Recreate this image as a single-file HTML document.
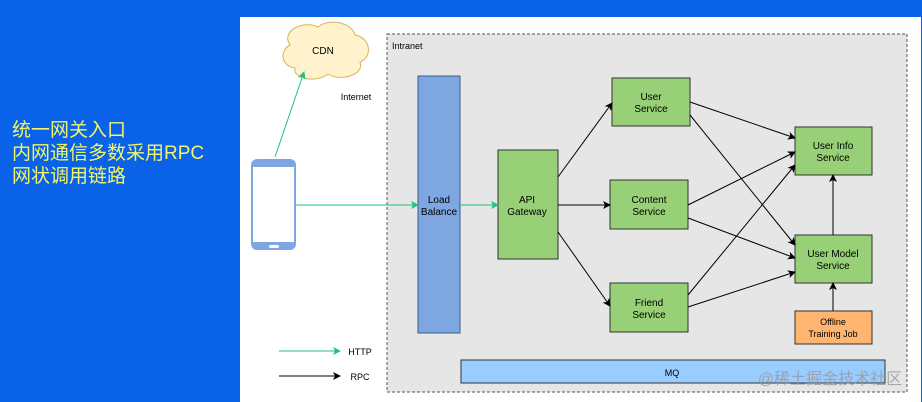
<!DOCTYPE html>
<html><head><meta charset="utf-8"><style>
html,body{margin:0;padding:0;width:922px;height:402px;overflow:hidden;background:#0a62e8;}
.t{position:absolute;left:12px;top:119px;color:#f2f56a;font:19px/23px "Liberation Sans","Noto Sans CJK SC",sans-serif;}
svg{position:absolute;left:0;top:0}
</style></head><body>
<div class="t">统一网关入口<br>内网通信多数采用RPC<br>网状调用链路</div>
<svg width="922" height="402" viewBox="0 0 922 402" font-family="Liberation Sans, sans-serif" font-size="10" text-anchor="middle">
<defs>
<marker id="a" markerWidth="8" markerHeight="8" refX="7" refY="4" orient="auto" markerUnits="userSpaceOnUse"><path d="M0,0 L8,4 L0,8 L2,4z" fill="#000"/></marker>
<marker id="g" markerWidth="8" markerHeight="8" refX="7" refY="4" orient="auto" markerUnits="userSpaceOnUse"><path d="M0,0 L8,4 L0,8 L2,4z" fill="#1fc27a"/></marker>
</defs>
<rect x="240" y="17" width="681" height="385" fill="#fff"/>
<rect x="387" y="34" width="520" height="358" fill="#e6e6e6" stroke="#555" stroke-dasharray="3,2"/>
<text x="392" y="49" text-anchor="start" font-size="9">Intranet</text>
<text x="356" y="100" font-size="9">Internet</text>
<path d="M290,45 C280,30 305,20 318,27 C328,18 352,22 355,35 C372,38 372,58 360,62 C365,75 340,82 328,74 C315,84 292,78 295,68 C280,66 280,50 290,45z" fill="#fff2cc" stroke="#d6b656"/>
<text x="323" y="54">CDN</text>
<rect x="251" y="159" width="45" height="91" rx="6" fill="#7ea6e0"/>
<rect x="253" y="167" width="41" height="75" fill="#fff"/>
<rect x="269" y="245" width="10" height="3" rx="1.5" fill="#fff"/>
<rect x="418" y="76" width="42" height="257" fill="#7ea6e0" stroke="#3a5a8c"/>
<text x="439" y="203">Load</text><text x="439" y="215">Balance</text>
<g fill="#97d077" stroke="#333">
<rect x="498" y="150" width="60" height="109"/>
<rect x="612" y="78" width="78" height="48"/>
<rect x="610" y="180" width="78" height="49"/>
<rect x="610" y="283" width="78" height="49"/>
<rect x="795" y="127" width="77" height="48"/>
<rect x="795" y="235" width="77" height="48"/>
</g>
<rect x="795" y="311" width="77" height="33" fill="#ffb570" stroke="#333"/>
<rect x="461" y="360" width="424" height="23" fill="#99ccff" stroke="#333"/>
<text x="527" y="203">API</text><text x="527" y="215">Gateway</text>
<text x="651" y="100">User</text><text x="651" y="112">Service</text>
<text x="649" y="203">Content</text><text x="649" y="215">Service</text>
<text x="649" y="306">Friend</text><text x="649" y="318">Service</text>
<text x="833" y="149">User Info</text><text x="833" y="161">Service</text>
<text x="833" y="257">User Model</text><text x="833" y="269">Service</text>
<text x="833" y="325" font-size="9">Offline</text><text x="833" y="337" font-size="9">Training Job</text>
<text x="672" y="376" font-size="9">MQ</text>
<g stroke="#1fc27a" marker-end="url(#g)">
<line x1="275" y1="157" x2="304" y2="72"/>
<line x1="296" y1="205" x2="418" y2="205"/>
<line x1="460" y1="205" x2="498" y2="205"/>
<line x1="279" y1="351" x2="340" y2="351"/>
</g>
<g stroke="#000" marker-end="url(#a)">
<line x1="558" y1="177" x2="612" y2="103"/>
<line x1="558" y1="205" x2="610" y2="205"/>
<line x1="558" y1="232" x2="610" y2="306"/>
<line x1="690" y1="102" x2="795" y2="138"/>
<line x1="690" y1="115" x2="795" y2="245"/>
<line x1="688" y1="205" x2="795" y2="152"/>
<line x1="688" y1="218" x2="795" y2="258"/>
<line x1="688" y1="295" x2="795" y2="165"/>
<line x1="688" y1="307" x2="795" y2="272"/>
<line x1="833" y1="235" x2="833" y2="175"/>
<line x1="833" y1="311" x2="833" y2="283"/>
<line x1="279" y1="376" x2="340" y2="376"/>
</g>
<text x="360" y="355" font-size="9">HTTP</text>
<text x="360" y="380" font-size="9">RPC</text>
<text x="830" y="384" font-size="16" fill="#999" opacity="0.8" font-family="Liberation Sans, Noto Sans CJK SC, sans-serif">@稀土掘金技术社区</text>
</svg>
</body></html>
